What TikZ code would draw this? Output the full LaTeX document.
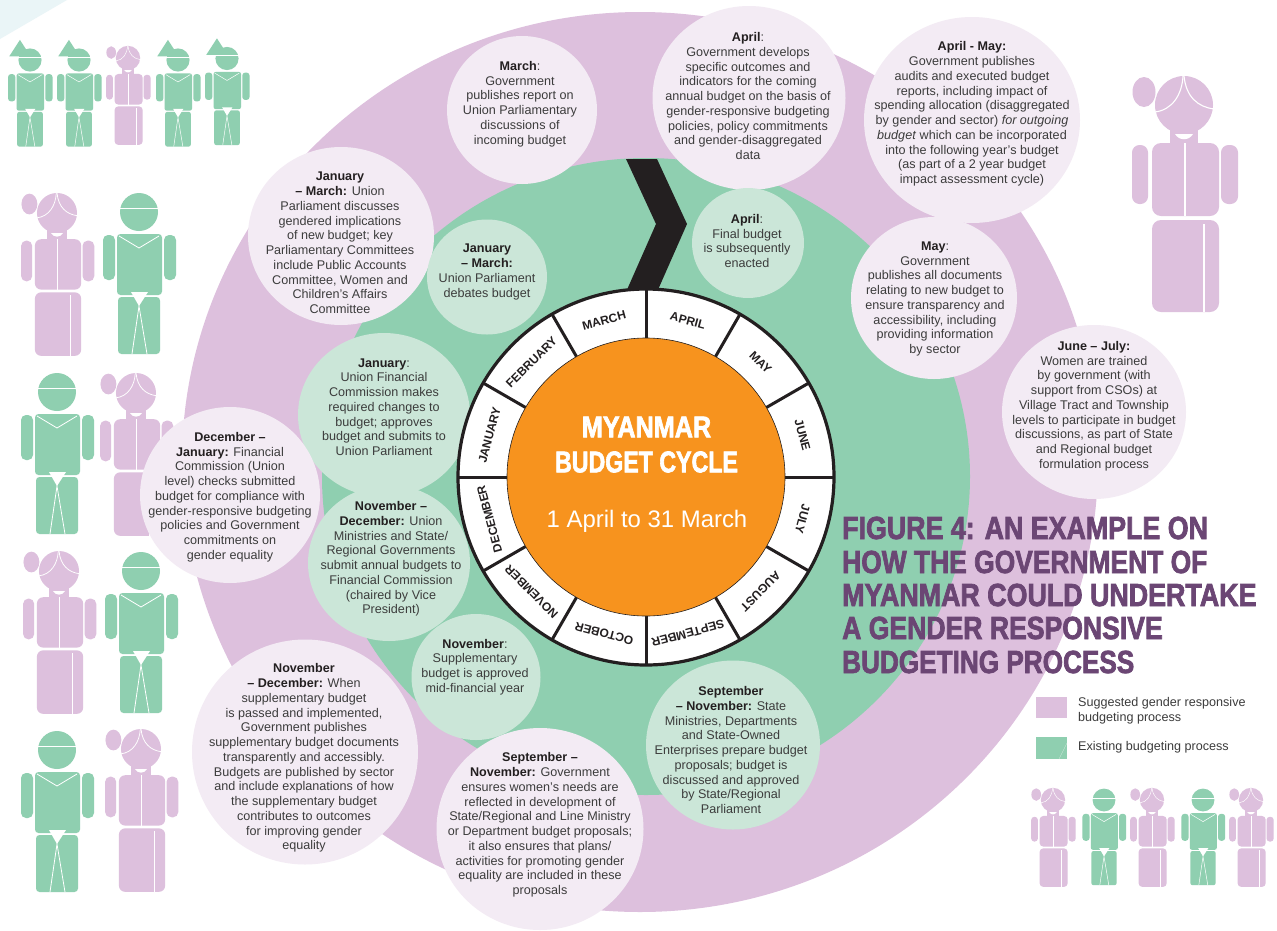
\documentclass[tikz,border=0pt]{standalone}
\usepackage{fontspec}
\setmainfont{Liberation Sans}
\newfontfamily\titlef[FakeStretch=0.84,BoldFeatures={FakeBold=2.2}]{Liberation Sans}
\definecolor{mypurple}{HTML}{DDC0DD}
\definecolor{mygreen}{HTML}{8FCFB0}
\definecolor{palepurple}{HTML}{F3EBF4}
\definecolor{palegreen}{HTML}{CBE6D8}
\definecolor{myorange}{HTML}{F7931E}
\definecolor{myblack}{HTML}{231F20}
\definecolor{titlecol}{HTML}{6B4674}
\definecolor{bodytext}{HTML}{3C3C3C}
\definecolor{corner}{HTML}{EAF5F7}
\newcommand\bh[1]{\textbf{\textcolor{myblack}{#1}}}
\tikzset{
  x=1pt,y=-1pt,
  bubtext/.style={align=center,inner sep=0pt,text=bodytext,font=\fontsize{12.6}{14.75}\selectfont},
  monthlab/.style={font=\bfseries\fontsize{12}{13}\selectfont,text=myblack,inner sep=0pt},
  titleline/.style={anchor=west,inner sep=0pt,text=titlecol,font=\titlef\bfseries\fontsize{32}{33}\selectfont},
  centerhead/.style={inner sep=0pt,text=white,font=\titlef\bfseries\fontsize{30}{31}\selectfont},
  legendtext/.style={anchor=west,align=left,inner sep=0pt,text=bodytext,font=\fontsize{12.6}{15}\selectfont},
}
\newcommand\femalefig[3]{%
\begin{scope}[shift={(#1,#2)},scale=#3]
  \fill[mypurple] (0,0) circle[x radius=29,y radius=29];
  \fill[mypurple] (-40,-13) circle[x radius=11.5,y radius=15];
  \fill[mypurple] (-14,18) rectangle (14,40);
  \fill[mypurple,rounded corners=#3*9pt] (-32,38) rectangle (35,111);
  \fill[mypurple,rounded corners=#3*9pt] (-32,115) rectangle (35,207);
  \fill[mypurple,rounded corners=#3*7.5pt] (-52,40) rectangle (-36,99);
  \fill[mypurple,rounded corners=#3*7.5pt] (37,40) rectangle (54,99);
  \fill[white] (-9,29) .. controls (-5,36) and (5,36) .. (9,29) -- cycle;
  \draw[white,line width=#3*1.1pt] (-1,-29) .. controls (-2,-10) and (-12,5) .. (-29,7);
  \draw[white,line width=#3*1.1pt] (0,-29) .. controls (2,-8) and (14,2) .. (30,4);
  \draw[white,line width=#3*1.1pt] (1,38) -- (1,111);
  \draw[white,line width=#3*1.1pt] (20,119) -- (20,207);
\end{scope}}
\newcommand\malebody{%
  \fill[mygreen] (0,0) circle[x radius=19,y radius=19];
  \fill[mygreen,rounded corners=3.5pt*\mscale] (-22,22) rectangle (23,83);
  \fill[mygreen,rounded corners=3.5pt*\mscale] (-21,85) rectangle (21,142);
  \fill[mygreen,rounded corners=5pt*\mscale] (-36,23) rectangle (-24,68);
  \fill[mygreen,rounded corners=5pt*\mscale] (25,23) rectangle (37,68);
  \draw[white,line width=0.8pt*\mscale] (-20,24) -- (0,36) -- (20,24);
  \fill[white] (-8,80) -- (9,80) -- (0,94) -- cycle;
  \draw[white,line width=0.8pt*\mscale] (-7,142) -- (0,94) -- (8,142);}
\newcommand\malefig[3]{%
\begin{scope}[shift={(#1,#2)},scale=#3]
  \def\mscale{#3}\malebody
  \draw[white,line width=#3*1.1pt] (-21,-3.3) -- (21,-3.3);
\end{scope}}
\newcommand\hatfig[3]{%
\begin{scope}[shift={(#1,#2)},scale=#3]
  \def\mscale{#3}\malebody
  \fill[mygreen] (-34,-6) -- (-16.5,-33) -- (1,-6) -- cycle;
  \draw[white,line width=#3*1.3pt] (-36,-4.5) -- (21,-4.5);
\end{scope}}
\begin{document}
\begin{tikzpicture}
\useasboundingbox (0,0) rectangle (1277,930);
\fill[white] (0,0) rectangle (1277,930);
\fill[corner] (0,0) -- (67,0) -- (0,39) -- cycle;
% people
\hatfig{30}{60}{.61}\hatfig{79}{60}{.61}\femalefig{128}{58}{.42}\hatfig{178}{60}{.61}\hatfig{227}{58.5}{.61}
\femalefig{57}{213}{.69}\malefig{139}{212}{1}
\malefig{57}{392}{1}\femalefig{136}{393}{.69}
\femalefig{59}{571}{.69}\malefig{141}{571}{1}
\malefig{57}{750}{1}\femalefig{141}{749}{.69}
\femalefig{1184}{105}{1}
\femalefig{1053}{800}{.42}\malefig{1104}{800}{.6}\femalefig{1152}{800}{.42}\malefig{1203}{800}{.6}\femalefig{1251}{800}{.42}
% big discs
\fill[mypurple] (640,462) circle[x radius=458,y radius=450];
\fill[mygreen] (646,476.5) circle[x radius=324,y radius=318.5];
% chevron
\fill[myblack] (626,159) -- (657,159) -- (687,224) -- (657,292) -- (626,292) -- (656,224) -- cycle;
% bubbles
\fill[palepurple] (522,110) circle[x radius=75,y radius=74];
\fill[palepurple] (749,98) circle[x radius=96.5,y radius=92];
\fill[palepurple] (972,120) circle[x radius=108,y radius=103];
\fill[palepurple] (341,236) circle[x radius=93,y radius=89];
\fill[palepurple] (934,298) circle[x radius=83,y radius=81];
\fill[palepurple] (1094,412) circle[x radius=92,y radius=87];
\fill[palegreen] (487,277) circle[x radius=60,y radius=57.5];
\fill[palegreen] (748,243) circle[x radius=56,y radius=55];
\fill[palegreen] (384,415) circle[x radius=86,y radius=82];
\fill[palepurple] (230,495) circle[x radius=90,y radius=88];
\fill[palegreen] (389,563) circle[x radius=81,y radius=78];
\fill[palegreen] (476,677) circle[x radius=64.5,y radius=63];
\fill[palepurple] (305,752) circle[x radius=113,y radius=112.5];
\fill[palepurple] (540,829) circle[x radius=103.5,y radius=101];
\fill[palegreen] (733,745) circle[x radius=87,y radius=84.5];
% wheel
\begin{scope}[shift={(646,477)}]
  \fill[white] (0,0) circle[x radius=188,y radius=188];
  \foreach \a in {0,30,...,330}{
    \draw[myblack,line width=3pt] (\a:139pt) -- (\a:188pt);
  }
  \draw[myblack,line width=3.2pt] (0,0) circle[x radius=188,y radius=188];
  \fill[myorange,draw=myblack,line width=.6pt] (0,0) circle[x radius=139,y radius=139];
  \foreach \a/\m in {75/APRIL,45/MAY,15/JUNE,-15/JULY,-45/AUGUST,-75/SEPTEMBER,-105/OCTOBER,-135/NOVEMBER,-165/DECEMBER,165/JANUARY,135/FEBRUARY,105/MARCH}{
    \node[monthlab,rotate=\a-90] (m\m) at (\a:162pt) {\m};
  }
\end{scope}
% centre text
\node[centerhead] (cyc1) at (646.5,427) {MYANMAR};
\node[centerhead] (cyc2) at (646.5,462) {\scalebox{.92}[1]{BUDGET CYCLE}};
\node[inner sep=0pt,text=white,font=\fontsize{23.9}{26}\selectfont] (cyc3) at (647,521) {1 April to 31 March};
% bubble texts
\node[bubtext] (tmarch) at (520,104) {\bh{March}:\\Government\\publishes report on\\Union Parliamentary\\discussions of\\incoming budget};
\node[bubtext] (tapril) at (748,96) {\bh{April}:\\Government develops\\specific outcomes and\\indicators for the coming\\annual budget on the basis of\\gender-responsive budgeting\\policies, policy commitments\\and gender-disaggregated\\data};
\node[bubtext] (taprmay) at (972,114) {\bh{April - May:}\\Government publishes\\audits and executed budget\\reports, including impact of\\spending allocation (disaggregated\\by gender and sector) \textit{for outgoing}\\\textit{budget} which can be incorporated\\into the following year’s budget\\(as part of a 2 year budget\\impact assessment cycle)};
\node[bubtext] (tjm) at (340,243) {\bh{January}\\\bh{– March:} Union\\Parliament discusses\\gendered implications\\of new budget; key\\Parliamentary Committees\\include Public Accounts\\Committee, Women and\\Children’s Affairs\\Committee};
\node[bubtext] (tjmg) at (487,272) {\bh{January}\\\bh{– March:}\\Union Parliament\\debates budget};
\node[bubtext] (taprg) at (747,241) {\bh{April}:\\Final budget\\is subsequently\\enacted};
\node[bubtext] (tmay) at (935,299) {\bh{May}:\\Government\\publishes all documents\\relating to new budget to\\ensure transparency and\\accessibility, including\\providing information\\by sector};
\node[bubtext] (tjj) at (1094,406) {\bh{June – July:}\\Women are trained\\by government (with\\support from CSOs) at\\Village Tract and Township\\levels to participate in budget\\discussions, as part of State\\and Regional budget\\formulation process};
\node[bubtext] (tjan) at (384,407) {\bh{January}:\\Union Financial\\Commission makes\\required changes to\\budget; approves\\budget and submits to\\Union Parliament};
\node[bubtext] (tdj) at (230,497) {\bh{December –}\\\bh{January:} Financial\\Commission (Union\\level) checks submitted\\budget for compliance with\\gender-responsive budgeting\\policies and Government\\commitments on\\gender equality};
\node[bubtext] (tndg) at (391,559) {\bh{November –}\\\bh{December:} Union\\Ministries and State/\\Regional Governments\\submit annual budgets to\\Financial Commission\\(chaired by Vice\\President)};
\node[bubtext] (tnovg) at (475,667) {\bh{November}:\\Supplementary\\budget is approved\\mid-financial year};
\node[bubtext] (tndp) at (304,758) {\bh{November}\\\bh{– December:} When\\supplementary budget\\is passed and implemented,\\Government publishes\\supplementary budget documents\\transparently and accessibly.\\Budgets are published by sector\\and include explanations of how\\the supplementary budget\\contributes to outcomes\\for improving gender\\equality};
\node[bubtext] (tsnp) at (540,825) {\bh{September –}\\\bh{November:} Government\\ensures women’s needs are\\reflected in development of\\State/Regional and Line Ministry\\or Department budget proposals;\\it also ensures that plans/\\activities for promoting gender\\equality are included in these\\proposals};
\node[bubtext] (tsng) at (731,750) {\bh{September}\\\bh{– November:} State\\Ministries, Departments\\and State-Owned\\Enterprises prepare budget\\proposals; budget is\\discussed and approved\\by State/Regional\\Parliament};
% title
\node[titleline] (ti1) at (842,528) {\scalebox{.997}[1]{FIGURE 4: AN EXAMPLE ON}};
\node[titleline] (ti2) at (842,562) {\scalebox{.982}[1]{HOW THE GOVERNMENT OF}};
\node[titleline] (ti3) at (842,595) {\scalebox{.998}[1]{MYANMAR COULD UNDERTAKE}};
\node[titleline] (ti4) at (842,628) {\scalebox{.989}[1]{A GENDER RESPONSIVE}};
\node[titleline] (ti5) at (842,662) {\scalebox{.973}[1]{BUDGETING PROCESS}};
% legend
\fill[mypurple] (1036,697) rectangle (1067,718);
\fill[mygreen] (1036,737) rectangle (1067,759);
\draw[palegreen,line width=.4pt] (1067,743) -- (1059,759);
\node[legendtext] (leg1) at (1078,711) {Suggested gender responsive\\budgeting process};
\node[legendtext] (leg2) at (1078,747.5) {Existing budgeting process};
\end{tikzpicture}
\end{document}
